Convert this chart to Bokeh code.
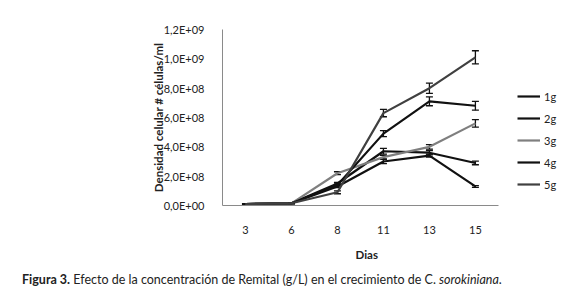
from bokeh.plotting import figure
from bokeh.models import (Range1d, FixedTicker, ColumnDataSource, Whisker,
                          TeeHead, Legend, LegendItem, Div, Title)
from bokeh.layouts import column
from bokeh.embed import file_html
from bokeh.resources import INLINE

days = ["3", "6", "8", "11", "13", "15"]
series_names = ["1g", "2g", "3g", "4g", "5g"]
v1 = [0.010e9, 0.015e9, 0.13e9, 0.30e9, 0.34e9, 0.13e9]
v2 = [0.010e9, 0.015e9, 0.15e9, 0.37e9, 0.36e9, 0.29e9]
v3 = [0.010e9, 0.015e9, 0.22e9, 0.33e9, 0.40e9, 0.56e9]
v4 = [0.010e9, 0.015e9, 0.14e9, 0.49e9, 0.71e9, 0.68e9]
v5 = [0.010e9, 0.015e9, 0.09e9, 0.63e9, 0.80e9, 1.01e9]
e1 = [0.002e9, 0.002e9, 0.008e9, 0.015e9, 0.010e9, 0.006e9]
e2 = [0.002e9, 0.002e9, 0.008e9, 0.020e9, 0.015e9, 0.012e9]
e3 = [0.002e9, 0.002e9, 0.010e9, 0.012e9, 0.015e9, 0.025e9]
e4 = [0.002e9, 0.002e9, 0.008e9, 0.020e9, 0.030e9, 0.030e9]
e5 = [0.002e9, 0.002e9, 0.010e9, 0.025e9, 0.035e9, 0.045e9]
y_ticks = [0, 0.2e9, 0.4e9, 0.6e9, 0.8e9, 1.0e9, 1.2e9]
y_tick_labels = ["0,0E+00", "2,0E+08", "4,0E+08", "6,0E+08", "8,0E+08", "1,0E+09", "1,2E+09"]
colors = ["#111111", "#111111", "#7f7f7f", "#111111", "#404040"]

FONT = "Lato"

# categorical positions: one slot per day (slot centres at i + 0.5)
xpos = [i + 0.5 for i in range(len(days))]
n_slots = len(days)

p = figure(width=571, height=270, x_range=Range1d(0, 7.59), y_range=Range1d(0, 1.2e9),
           output_backend="svg", toolbar_location=None,
           min_border_left=222, min_border_right=0, min_border_top=29, min_border_bottom=60)
p.outline_line_color = None
p.grid.grid_line_color = None
p.background_fill_color = "white"

p.xaxis.ticker = FixedTicker(ticks=xpos)
p.xaxis.major_label_overrides = {x: d for x, d in zip(xpos, days)}
p.xaxis.bounds = (0, n_slots)
p.yaxis.ticker = FixedTicker(ticks=y_ticks)
p.yaxis.major_label_overrides = {t: l for t, l in zip(y_ticks, y_tick_labels)}
for ax in (p.xaxis[0], p.yaxis[0]):
    ax.axis_line_color = "#8a8a8a"
    ax.major_tick_line_color = None
    ax.minor_tick_line_color = None
    ax.major_label_text_font = FONT
    ax.major_label_text_font_size = "11px"
    ax.major_label_text_color = "#222222"
    ax.axis_label_text_font = FONT
    ax.axis_label_text_font_size = "11.5px"
    ax.axis_label_text_font_style = "bold"
    ax.axis_label_text_color = "#222222"
p.yaxis.major_label_standoff = 12
p.xaxis.major_label_standoff = 14
p.yaxis.axis_label = "Densidad celular # células/ml"
p.yaxis.axis_label_standoff = -4

p.add_layout(Title(text="Dias", align="left", offset=133, standoff=19,
                   text_font=FONT, text_font_size="11.5px", text_font_style="bold",
                   text_color="#222222"), "below")

items = []
for name, vals, errs, c in zip(series_names, [v1, v2, v3, v4, v5], [e1, e2, e3, e4, e5], colors):
    src = ColumnDataSource(dict(x=xpos, y=vals,
                                lo=[a - b for a, b in zip(vals, errs)],
                                hi=[a + b for a, b in zip(vals, errs)]))
    r = p.line("x", "y", source=src, line_color=c, line_width=2.2)
    w = Whisker(base="x", upper="hi", lower="lo", source=src, line_color="#111111", line_width=1.3,
                upper_head=TeeHead(size=7, line_color="#111111", line_width=1.3),
                lower_head=TeeHead(size=7, line_color="#111111", line_width=1.3))
    p.add_layout(w)
    items.append(LegendItem(label=name, renderers=[r]))

legend = Legend(items=items, location=(295, 11), glyph_width=23, glyph_height=20, spacing=2,
                label_standoff=4, label_text_font=FONT, label_text_font_size="11px",
                label_text_color="#222222", border_line_color=None, background_fill_alpha=0,
                padding=0, margin=0)
p.add_layout(legend)

caption = Div(
    text='<div style="font-family: Lato; font-size: 12.5px; color: #222222; line-height: 14px; '
         'padding-left: 17px; margin: 0; position: relative; top: -3px;"><b>Figura 3.</b> Efecto '
         'de la concentración de Remital (g/L) en el crecimiento de C. <i>sorokiniana</i>.</div>',
    width=571, height=28)

layout = column(p, caption, spacing=0)
open("out.html", "w").write(file_html(layout, INLINE))
